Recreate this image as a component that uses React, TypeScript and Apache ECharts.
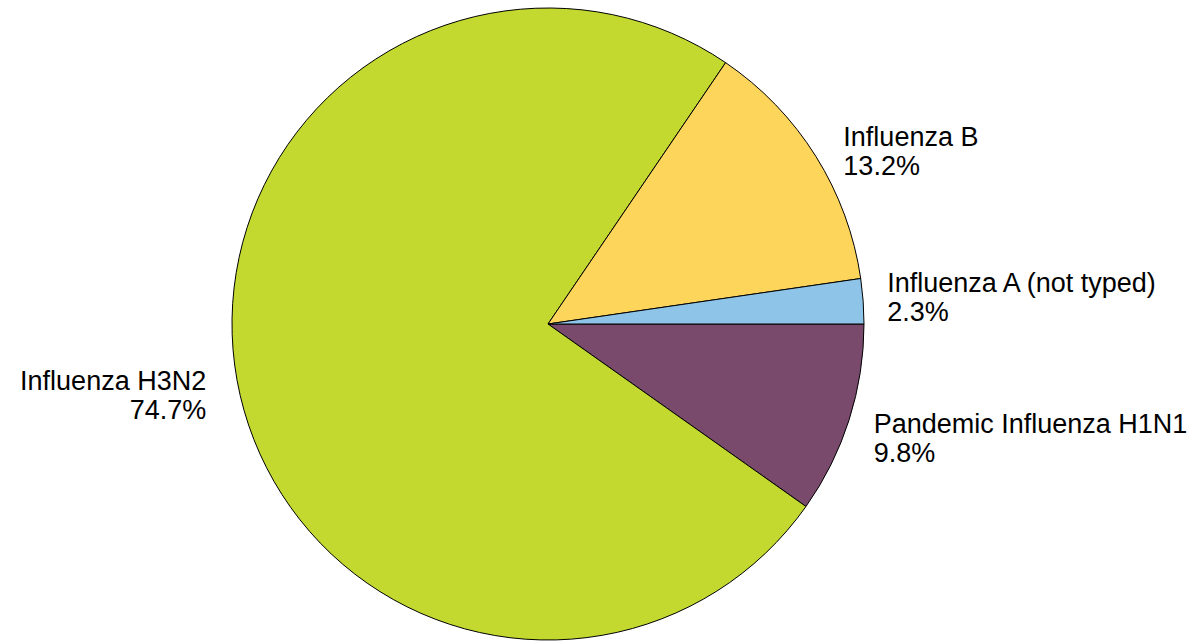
import React, { useEffect, useRef } from "react";
import * as echarts from "echarts";

const categories = [
  "Pandemic Influenza H1N1",
  "Influenza H3N2",
  "Influenza B",
  "Influenza A (not typed)",
];
const values = [9.8, 74.7, 13.2, 2.3];
const colors = ["#7A4A6D", "#C3D92F", "#FED55B", "#8EC4E8"];
const labelShiftY = [16, 13, 0, -3];
const labelShiftX = [-4, -2, 0, -5];

export default function App() {
  const ref = useRef<HTMLDivElement>(null);
  useEffect(() => {
    const chart = echarts.init(ref.current!, null, { renderer: "svg" });
    chart.setOption({
      animation: false,
      backgroundColor: "#ffffff",
      series: [
        {
          type: "pie",
          center: [548, 324],
          radius: 316,
          startAngle: 0,
          clockwise: true,
          avoidLabelOverlap: false,
          data: categories.map((name, i) => ({
            name,
            value: values[i],
            itemStyle: { color: colors[i] },
          })),
          itemStyle: { borderColor: "#000000", borderWidth: 1 },
          label: {
            show: true,
            position: "outside",
            formatter: (p: any) => `${p.name}\n${p.value.toFixed(1)}%`,
            fontFamily: "Liberation Sans, Arial, sans-serif",
            fontSize: 27,
            lineHeight: 29,
            color: "#000000",
          },
          labelLine: { show: false, length: 10, length2: 14 },
          labelLayout: (params: any) => ({
            dx: labelShiftX[params.dataIndex],
            dy: labelShiftY[params.dataIndex],
          }),
          emphasis: { disabled: true },
        },
      ],
    });
    return () => chart.dispose();
  }, []);
  return (
    <div
      ref={ref}
      style={{ position: "fixed", left: 0, top: 0, width: 1200, height: 641 }}
    />
  );
}
